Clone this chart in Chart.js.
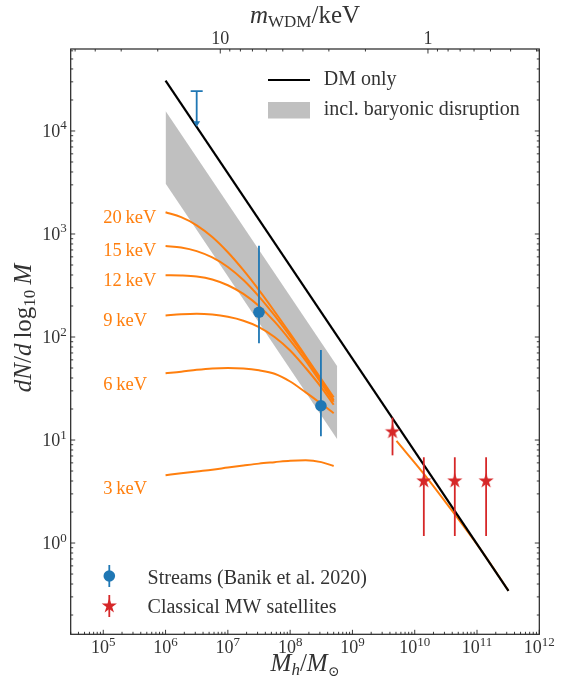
<!DOCTYPE html>
<html>
<head>
<meta charset="utf-8">
<script src="https://cdn.jsdelivr.net/npm/chart.js@4.4.0/dist/chart.umd.min.js"></script>
<style>
  html, body { margin: 0; padding: 0; background: #fff; }
  canvas { display: block; }
</style>
</head>
<body>
<canvas id="chart" width="563" height="684"></canvas>
<script>
// ---- data -------------------------------------------------------------
// halo mass grid of the WDM curves (M_sun)
const CURVE_MASS = [1e6, 1.778e6, 3.162e6, 5.623e6, 1e7, 1.778e7, 3.162e7, 5.623e7, 1e8, 1.778e8, 3.162e8, 5e8];
const WDM_20 = [1625, 1456, 1215, 935, 665, 445, 285, 177, 108, 65, 39, 26];
const WDM_15 = [765, 740, 682, 592, 478, 357, 247, 162, 102, 63, 37.5, 24.5];
const WDM_12 = [398, 396, 387, 362, 318, 262, 200, 141, 93, 59, 35.5, 23.5];
const WDM_9 = [162, 166, 168, 165, 157, 144, 125, 100, 74, 50, 32.5, 22];
const WDM_6 = [44.4, 46, 48, 49.5, 50, 49.5, 47.5, 44, 37, 29, 22.5, 18.2];
const WDM_3 = [4.55, 4.75, 4.95, 5.15, 5.4, 5.65, 5.9, 6.1, 6.3, 6.35, 6.1, 5.6];
const WDM_LABELS = ['20\u2009keV', '15\u2009keV', '12\u2009keV', '9\u2009keV', '6\u2009keV', '3\u2009keV'];

// orange curve in the satellite mass range
const HIGH_MASS = [5.1e9, 1.4e10, 4e10, 1.2e11, 3.2e11];
const HIGH_N = [9.8, 4.7, 2.05, 0.83, 0.344];

// DM only
const DM_MASS = [1e6, 3.2e11];
const DM_N = [3.08e4, 0.344];

// baryonic disruption band
const BAND_MASS = [1e6, 5.7e8];
const BAND_UPPER = [1.56e4, 52];
const BAND_LOWER = [3.1e3, 10.2];

// streams (Banik et al. 2020)
const STREAM_MASS = [3.16e7, 3.12e8];
const STREAM_N = [174, 21.5];
const STREAM_LOW = [87, 10.9];
const STREAM_HIGH = [770, 75];
const LIMIT_MASS = [3.16e6];
const LIMIT_TOP = [2.44e4];
const LIMIT_TIP = [1.1e4];

// classical MW satellites
const SAT_MASS = [4.4e9, 1.4e10, 4.4e10, 1.4e11];
const SAT_N = [12, 4, 4, 4];
const SAT_LOW = [7.1, 1.17, 1.17, 1.17];
const SAT_HIGH = [16.5, 6.8, 6.8, 6.8];

// tick labels
const X_TICK_EXP = [5, 6, 7, 8, 9, 10, 11, 12];
const Y_TICK_EXP = [0, 1, 2, 3, 4];
const TOP_TICKS = [10, 1];

// ---- style / layout ---------------------------------------------------
const ORANGE = '#ff7f0e';
const BLUE = '#1f77b4';
const RED = '#d62728';
const INK = '#333';
const SERIF = '"Liberation Serif", "DejaVu Serif", serif';
const LABEL_AT = [1473, 700, 357, 146, 35, 3.42]; // vertical centres of the keV labels

function font(size, italic) {
  return (italic ? 'italic ' : '') + size + 'px ' + SERIF;
}

// parts: [text, size, italic, dy]
function drawRich(ctx, parts, x, y, align) {
  let w = 0;
  parts.forEach(p => { ctx.font = font(p[1], p[2]); w += ctx.measureText(p[0]).width; });
  let cx = align === 'center' ? x - w / 2 : (align === 'right' ? x - w : x);
  ctx.textAlign = 'left';
  ctx.textBaseline = 'alphabetic';
  parts.forEach(p => {
    ctx.font = font(p[1], p[2]);
    ctx.fillText(p[0], cx, y + (p[3] || 0));
    cx += ctx.measureText(p[0]).width;
  });
}

function logTicks(min, max) {
  const out = [];
  for (let e = Math.floor(Math.log10(min)); e <= Math.ceil(Math.log10(max)); e++) {
    for (let k = 1; k <= 9; k++) {
      const v = k * Math.pow(10, e);
      if (v >= min * 0.999 && v <= max * 1.001) out.push({ v, major: k === 1 });
    }
  }
  return out;
}

function starImage(R, color) {
  const s = Math.ceil(2 * R + 2);
  const c = document.createElement('canvas');
  c.width = s; c.height = s;
  const g = c.getContext('2d');
  g.translate(s / 2, s / 2);
  starPath(g, R);
  g.fillStyle = color;
  g.fill();
  return c;
}

function starPath(g, R) {
  g.beginPath();
  for (let i = 0; i < 10; i++) {
    const a = -Math.PI / 2 + i * Math.PI / 5;
    const r = i % 2 === 0 ? R : R * 0.382;
    g.lineTo(r * Math.cos(a), r * Math.sin(a));
  }
  g.closePath();
}

const pts = (xs, ys) => xs.map((x, i) => ({ x, y: ys[i] }));

function curve(label, ys) {
  return {
    label, data: pts(CURVE_MASS, ys), showLine: true,
    borderColor: ORANGE, borderWidth: 2, pointRadius: 0,
    cubicInterpolationMode: 'monotone', fill: false, order: 10
  };
}

// ---- plugin: error bars, limit arrow, frame, ticks, texts, legends -------
const decor = {
  id: 'decor',
  beforeDatasetDraw(chart, args) {
    const ds = chart.data.datasets[args.index];
    if (!ds.errLow) return;
    const { ctx, scales: { x, y } } = chart;
    ctx.save();
    ctx.strokeStyle = ds.errColor;
    ctx.lineWidth = 1.8;
    ds.data.forEach((p, i) => {
      const px = x.getPixelForValue(p.x);
      ctx.beginPath();
      ctx.moveTo(px, y.getPixelForValue(ds.errLow[i]));
      ctx.lineTo(px, y.getPixelForValue(ds.errHigh[i]));
      ctx.stroke();
    });
    ctx.restore();
  },
  afterDatasetsDraw(chart) {
    const { ctx, scales: { x, y } } = chart;
    ctx.save();
    ctx.strokeStyle = BLUE;
    ctx.fillStyle = BLUE;
    ctx.lineWidth = 1.8;
    LIMIT_MASS.forEach((m, i) => {
      const px = x.getPixelForValue(m);
      const top = y.getPixelForValue(LIMIT_TOP[i]);
      const tip = y.getPixelForValue(LIMIT_TIP[i]);
      ctx.beginPath();
      ctx.moveTo(px - 6, top); ctx.lineTo(px + 6, top);
      ctx.moveTo(px, top); ctx.lineTo(px, tip - 3);
      ctx.stroke();
      ctx.beginPath();
      ctx.moveTo(px - 3.5, tip - 5.5); ctx.lineTo(px + 3.5, tip - 5.5); ctx.lineTo(px, tip);
      ctx.closePath();
      ctx.fill();
    });
    ctx.restore();
  },
  afterDraw(chart) {
    const { ctx, chartArea: a, scales: { x, x2, y } } = chart;
    ctx.save();

    // frame
    ctx.strokeStyle = '#222';
    ctx.lineWidth = 1.2;
    ctx.strokeRect(a.left, a.top, a.right - a.left, a.bottom - a.top);

    // inward ticks
    ctx.lineWidth = 0.9;
    ctx.beginPath();
    logTicks(x.min, x.max).forEach(t => {
      const px = x.getPixelForValue(t.v), len = t.major ? 4.5 : 2.5;
      ctx.moveTo(px, a.bottom); ctx.lineTo(px, a.bottom - len);
    });
    logTicks(x2.min, x2.max).forEach(t => {
      const px = x2.getPixelForValue(t.v), len = t.major ? 4.5 : 2.5;
      ctx.moveTo(px, a.top); ctx.lineTo(px, a.top + len);
    });
    logTicks(y.min, y.max).forEach(t => {
      const py = y.getPixelForValue(t.v), len = t.major ? 4.5 : 2.5;
      ctx.moveTo(a.left, py); ctx.lineTo(a.left + len, py);
      ctx.moveTo(a.right, py); ctx.lineTo(a.right - len, py);
    });
    ctx.stroke();

    // tick labels
    ctx.fillStyle = INK;
    X_TICK_EXP.forEach(e => {
      const px = x.getPixelForValue(Math.pow(10, e));
      drawRich(ctx, [['10', 18, false], [String(e), 13, false, -7.5]], px, 653, 'center');
    });
    Y_TICK_EXP.forEach(e => {
      const py = y.getPixelForValue(Math.pow(10, e));
      drawRich(ctx, [['10', 18, false], [String(e), 13, false, -7.5]], a.left - 4, py + 6, 'right');
    });
    TOP_TICKS.forEach(v => {
      const px = x2.getPixelForValue(v);
      drawRich(ctx, [[String(v), 18, false]], px, 44, 'center');
    });

    // axis titles
    const mid = (a.left + a.right) / 2;
    drawRich(ctx, [['m', 25, true], ['WDM', 17, false, 4], ['/keV', 25, false]], mid, 23, 'center');
    drawRich(ctx, [['M', 25, true], ['h', 17, true, 4], ['/', 25, false], ['M', 25, true], ['\u2299', 14, false, 5]], mid, 671, 'center');
    ctx.save();
    ctx.translate(31, 328);
    ctx.rotate(-Math.PI / 2);
    drawRich(ctx, [['dN', 25, true], ['/', 25, false], ['d', 25, true], ['\u2009log', 25, false],
      ['10', 17, false, 4], ['\u2009M', 25, true]], 0, 0, 'center');
    ctx.restore();

    // keV labels
    ctx.fillStyle = ORANGE;
    const lx = x.getPixelForValue(1e5);
    WDM_LABELS.forEach((t, i) => {
      drawRich(ctx, [[t, 18.5, false]], lx, y.getPixelForValue(LABEL_AT[i]) + 6, 'left');
    });

    // upper-right legend
    ctx.strokeStyle = '#000';
    ctx.lineWidth = 2.2;
    ctx.beginPath(); ctx.moveTo(268, 80); ctx.lineTo(310, 80); ctx.stroke();
    ctx.fillStyle = 'silver';
    ctx.fillRect(268, 102, 42, 16.5);
    ctx.fillStyle = INK;
    drawRich(ctx, [['DM only', 20, false]], 323.7, 85, 'left');
    drawRich(ctx, [['incl. baryonic disruption', 20, false]], 323.7, 115, 'left');

    // lower-left legend
    ctx.lineWidth = 1.8;
    ctx.strokeStyle = BLUE;
    ctx.beginPath(); ctx.moveTo(109.3, 565); ctx.lineTo(109.3, 587); ctx.stroke();
    ctx.fillStyle = BLUE;
    ctx.beginPath(); ctx.arc(109.3, 576, 5.8, 0, Math.PI * 2); ctx.fill();
    ctx.strokeStyle = RED;
    ctx.beginPath(); ctx.moveTo(109.3, 595); ctx.lineTo(109.3, 617); ctx.stroke();
    ctx.fillStyle = RED;
    ctx.save(); ctx.translate(109.3, 606); starPath(ctx, 8); ctx.fill(); ctx.restore();
    ctx.fillStyle = INK;
    drawRich(ctx, [['Streams (Banik et al. 2020)', 20, false]], 147.6, 584, 'left');
    drawRich(ctx, [['Classical MW satellites', 20, false]], 147.6, 613, 'left');

    ctx.restore();
  }
};

// ---- chart ------------------------------------------------------------
const starImg = starImage(8, RED);

new Chart(document.getElementById('chart'), {
  type: 'scatter',
  data: {
    datasets: [
      { label: 'band upper', data: pts(BAND_MASS, BAND_UPPER), showLine: true, borderWidth: 0,
        borderColor: 'transparent', pointRadius: 0, fill: false, order: 20 },
      { label: 'incl. baryonic disruption', data: pts(BAND_MASS, BAND_LOWER), showLine: true, borderWidth: 0,
        borderColor: 'transparent', backgroundColor: 'silver', pointRadius: 0, fill: '-1', order: 20 },
      curve('20 keV', WDM_20),
      curve('15 keV', WDM_15),
      curve('12 keV', WDM_12),
      curve('9 keV', WDM_9),
      curve('6 keV', WDM_6),
      curve('3 keV', WDM_3),
      { label: 'high mass', data: pts(HIGH_MASS, HIGH_N), showLine: true, borderColor: ORANGE,
        borderWidth: 2, pointRadius: 0, cubicInterpolationMode: 'monotone', fill: false, order: 9 },
      { label: 'DM only', data: pts(DM_MASS, DM_N), showLine: true, borderColor: '#000',
        borderWidth: 2.2, pointRadius: 0, fill: false, order: 8 },
      { label: 'Streams (Banik et al. 2020)', data: pts(STREAM_MASS, STREAM_N), pointRadius: 5.8,
        pointBackgroundColor: BLUE, pointBorderWidth: 0, errLow: STREAM_LOW, errHigh: STREAM_HIGH,
        errColor: BLUE, order: 2 },
      { label: 'Classical MW satellites', data: pts(SAT_MASS, SAT_N), pointStyle: starImg, pointRadius: 8,
        errLow: SAT_LOW, errHigh: SAT_HIGH, errColor: RED, order: 1 }
    ]
  },
  options: {
    responsive: false,
    animation: false,
    devicePixelRatio: 1,
    events: [],
    layout: { padding: { left: 70.7, right: 23.7, top: 49, bottom: 49.7 } },
    scales: {
      x: { type: 'logarithmic', min: 3e4, max: 1e12, display: false },
      x2: { type: 'logarithmic', position: 'top', reverse: true, min: 0.291, max: 52.5, display: false },
      y: { type: 'logarithmic', min: 0.13, max: 6.25e4, display: false }
    },
    plugins: {
      legend: { display: false },
      tooltip: { enabled: false }
    }
  },
  plugins: [decor]
});
</script>
</body>
</html>
